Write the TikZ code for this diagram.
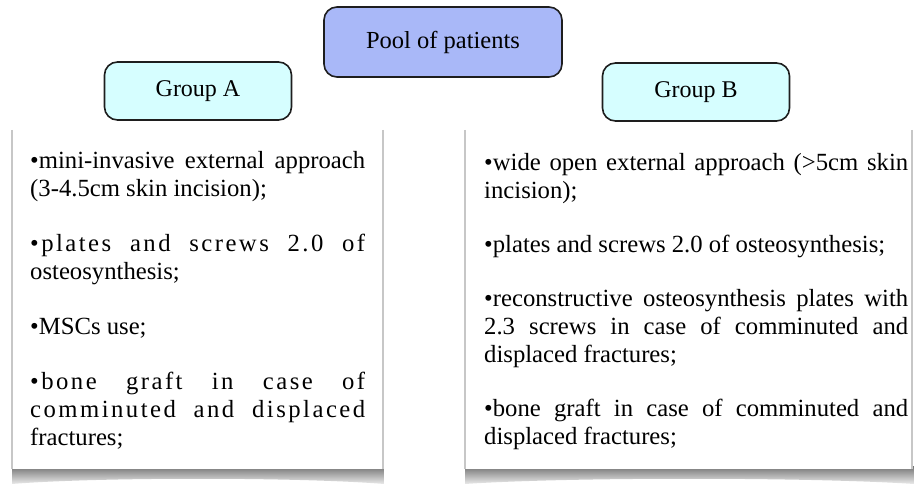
\documentclass[tikz,border=0pt]{standalone}
\usepackage{fontspec}
\setmainfont{Liberation Serif}
\definecolor{poolblue}{HTML}{A9B8F8}
\definecolor{groupcyan}{HTML}{D6FEFF}
\definecolor{edgedark}{HTML}{1E1E1E}
\newcommand\jline[2]{\makebox[#1][s]{#2}}
\newcommand\lsp{\addfontfeature{LetterSpace=10}}
\newcommand\toprule{\rule{0pt}{20pt}}
\begin{document}
\begin{tikzpicture}[x=1pt,y=-1pt]
\tikzset{
  roundbox/.style={draw=edgedark, line width=1.6pt, rounded corners=13pt, inner sep=0pt},
  poolbox/.style={roundbox, fill=poolblue, minimum width=238pt, minimum height=70pt,
    font=\fontsize{24.5}{28}\selectfont},
  groupbox/.style={roundbox, fill=groupcyan, minimum width=187pt, minimum height=58pt,
    font=\fontsize{24}{28}\selectfont},
  panelbox/.style={fill=white, inner sep=0pt},
  sideshade/.style={draw=black!22, line width=2pt},
  shadowband/.style={top color=black!55, bottom color=black!8},
  listtext/.style={anchor=north west, align=left, inner sep=0pt}
}
\useasboundingbox (0,0) rectangle (914,484);
\fill[white] (0,0) rectangle (914,484);

% panel shadows
\shade[shadowband] (12,466) -- (384,466) -- (384,484) .. controls (300,477) and (96,477) .. (12,484) -- cycle;
\shade[shadowband] (465,466) -- (914,466) -- (914,484) .. controls (810,477) and (567,477) .. (465,484) -- cycle;

% panels
\node[panelbox, minimum width=371pt, minimum height=339pt] (panelA) at (197.5,299.5) {};
\node[panelbox, minimum width=447pt, minimum height=339pt] (panelB) at (688.5,299.5) {};
\draw[sideshade] (panelA.north west) -- (panelA.south west);
\draw[sideshade] (panelA.north east) -- (panelA.south east);
\draw[sideshade] (panelB.north west) -- (panelB.south west);
\draw[sideshade] (panelB.north east) -- (panelB.south east);

% header boxes
\node[poolbox] (pool) at (443,42) {Pool of patients};
\node[groupbox] (groupA) at (198,91) {Group A};
\node[groupbox] (groupB) at (696,92) {Group B};

% texts
\node[listtext, font=\fontsize{24.7}{28}\selectfont] (textA) at (30,148) {%
\toprule\jline{335pt}{•mini-invasive external approach}\\
(3-4.5cm skin incision);\\[27pt]
\jline{335pt}{\lsp •plates and screws 2.0 of}\\
osteosynthesis;\\[27pt]
•MSCs use;\\[27pt]
\jline{335pt}{\lsp •bone graft in case of}\\
\jline{335pt}{\lsp comminuted and displaced}\\
fractures;};

\node[listtext, font=\fontsize{24.7}{28}\selectfont] (textB) at (484,150) {%
\toprule\jline{424pt}{•wide open external approach (>5cm skin}\\
incision);\\[26pt]
•plates and screws 2.0 of osteosynthesis;\\[26pt]
\jline{424pt}{•reconstructive osteosynthesis plates with}\\
\jline{424pt}{2.3 screws in case of comminuted and}\\
displaced fractures;\\[26pt]
\jline{424pt}{•bone graft in case of comminuted and}\\
displaced fractures;};
\end{tikzpicture}
\end{document}
